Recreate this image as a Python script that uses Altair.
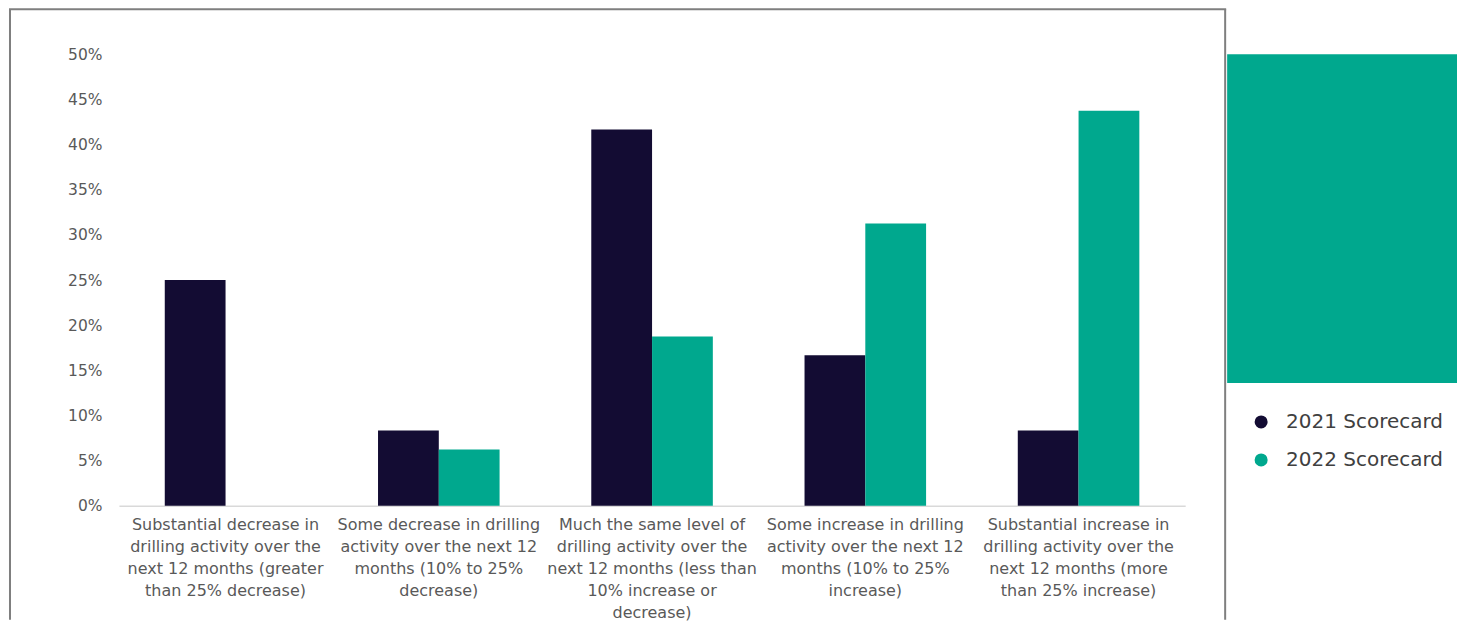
import altair as alt
import pandas as pd

categories = [
    "Substantial decrease in\ndrilling activity over the\nnext 12 months (greater\nthan 25% decrease)",
    "Some decrease in drilling\nactivity over the next 12\nmonths (10% to 25%\ndecrease)",
    "Much the same level of\ndrilling activity over the\nnext 12 months (less than\n10% increase or\ndecrease)",
    "Some increase in drilling\nactivity over the next 12\nmonths (10% to 25%\nincrease)",
    "Substantial increase in\ndrilling activity over the\nnext 12 months (more\nthan 25% increase)",
]
series = ["2021 Scorecard", "2022 Scorecard"]
values_2021 = [25.0, 8.33, 41.67, 16.67, 8.33]
values_2022 = [0.0, 6.25, 18.75, 31.25, 43.75]
colors = ["#130c33", "#00a88e"]

rows = []
for c, v1, v2 in zip(categories, values_2021, values_2022):
    rows.append({"category": c, "series": series[0], "value": v1})
    rows.append({"category": c, "series": series[1], "value": v2})
df = pd.DataFrame(rows)

FONT = "DejaVu Sans"

bars = alt.Chart(df).mark_bar().encode(
    x=alt.X("category:N", sort=categories, title=None,
            scale=alt.Scale(paddingInner=0.43, paddingOuter=0.215),
            axis=alt.Axis(labelAngle=0, labelExpr="split(datum.label, '\\n')",
                          labelFont=FONT, labelFontSize=16, labelColor="#595959",
                          labelLineHeight=22, labelPadding=11, labelLimit=400,
                          labelOverlap=False, labelBound=False,
                          ticks=False, domainColor="#d9d9d9", domainWidth=1.5,
                          grid=False)),
    xOffset=alt.XOffset("series:N", sort=series),
    y=alt.Y("value:Q", title=None,
            scale=alt.Scale(domain=[0, 50], nice=False),
            axis=alt.Axis(values=[0, 5, 10, 15, 20, 25, 30, 35, 40, 45, 50],
                          labelExpr="datum.value + '%'",
                          labelFont=FONT, labelFontSize=15.5, labelColor="#595959",
                          labelPadding=17, ticks=False, domain=False, grid=False)),
    color=alt.Color("series:N", sort=series,
                    scale=alt.Scale(domain=series, range=colors),
                    legend=alt.Legend(title=None, orient="none", legendX=1133, legendY=358,
                                      symbolType="circle", symbolSize=170,
                                      symbolStrokeWidth=0, symbolOpacity=1,
                                      labelFont=FONT, labelFontSize=20,
                                      labelColor="#404040", labelOffset=15,
                                      rowPadding=18)),
)

dummy = pd.DataFrame({"d": [0]})
border_color = "#7f7f7f"

teal_rect = alt.Chart(dummy).mark_rect(color="#00a88e").encode(
    x=alt.value(1109), x2=alt.value(1339), y=alt.value(0), y2=alt.value(329))
left_rule = alt.Chart(dummy).mark_rule(color=border_color, strokeWidth=2).encode(
    x=alt.value(-109), y=alt.value(-45), y2=alt.value(566))
right_rule = alt.Chart(dummy).mark_rule(color=border_color, strokeWidth=2).encode(
    x=alt.value(1107), y=alt.value(-45), y2=alt.value(566))
top_rule = alt.Chart(dummy).mark_rule(color=border_color, strokeWidth=2).encode(
    y=alt.value(-45), x=alt.value(-110), x2=alt.value(1108))

chart = alt.layer(teal_rect, left_rule, right_rule, top_rule, bars).properties(
    width=1067, height=452, padding=0, background="white"
).configure_view(stroke=None, strokeWidth=0)

chart.save("out.html", embed_options={"renderer": "svg", "actions": False})
